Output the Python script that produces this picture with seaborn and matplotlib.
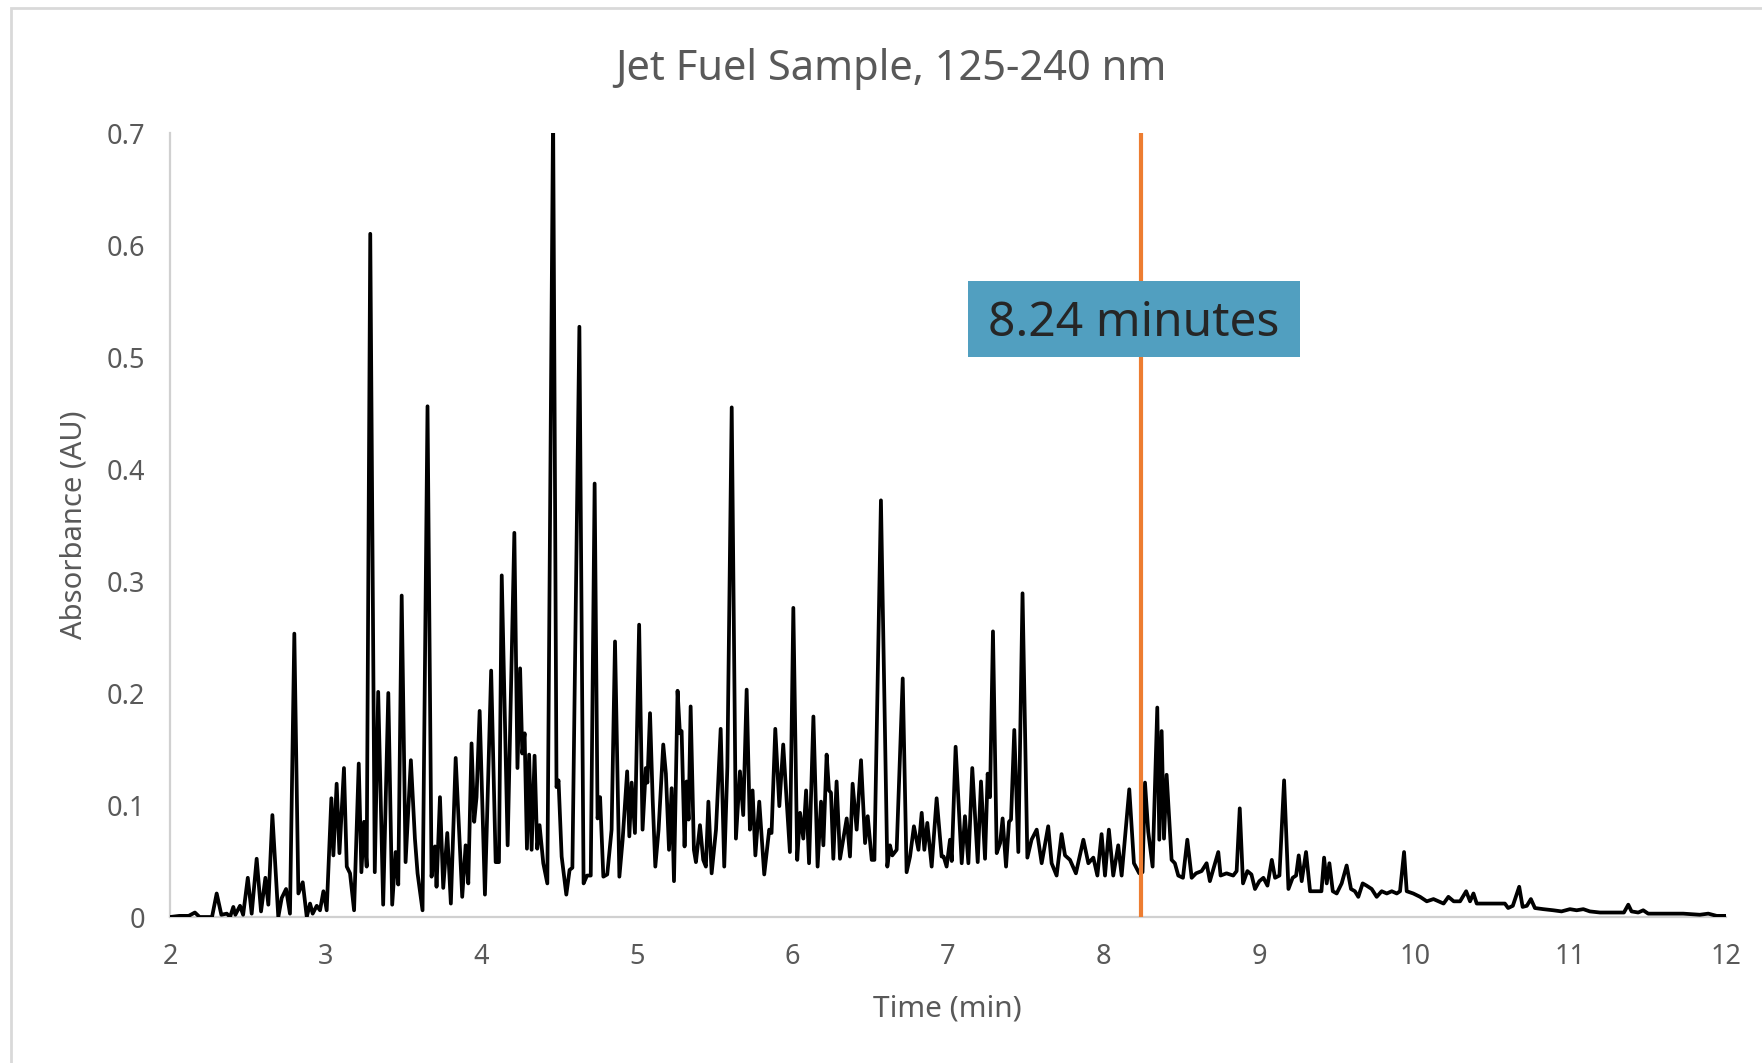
import matplotlib
matplotlib.use("Agg")
import matplotlib.pyplot as plt
import seaborn as sns
import pandas as pd
from matplotlib.patches import Rectangle

# ---- data ----
time_min = [
    2.000, 2.060, 2.120, 2.160, 2.190, 2.270, 2.300, 2.330, 2.365, 2.386, 2.407, 2.420, 2.450, 2.470,
    2.500, 2.525, 2.557, 2.585, 2.613, 2.632, 2.658, 2.696, 2.718, 2.746, 2.771, 2.799, 2.825, 2.853,
    2.879, 2.900, 2.917, 2.943, 2.964, 2.986, 3.007, 3.037, 3.050, 3.071, 3.089, 3.118, 3.136, 3.157,
    3.183, 3.213, 3.230, 3.247, 3.264, 3.287, 3.316, 3.338, 3.370, 3.403, 3.428, 3.450, 3.467, 3.489,
    3.514, 3.548, 3.574, 3.591, 3.623, 3.655, 3.681, 3.703, 3.713, 3.735, 3.756, 3.782, 3.805, 3.836,
    3.878, 3.900, 3.917, 3.938, 3.955, 3.970, 3.990, 4.024, 4.064, 4.093, 4.114, 4.132, 4.170, 4.213,
    4.233, 4.250, 4.264, 4.279, 4.294, 4.308, 4.324, 4.343, 4.360, 4.375, 4.399, 4.425, 4.462, 4.484,
    4.497, 4.517, 4.547, 4.568, 4.586, 4.631, 4.658, 4.680, 4.704, 4.729, 4.748, 4.764, 4.785, 4.810,
    4.838, 4.860, 4.888, 4.909, 4.938, 4.952, 4.967, 4.988, 5.015, 5.037, 5.058, 5.068, 5.085, 5.102,
    5.119, 5.140, 5.170, 5.187, 5.207, 5.224, 5.239, 5.262, 5.277, 5.288, 5.307, 5.320, 5.333, 5.346,
    5.367, 5.380, 5.406, 5.427, 5.444, 5.460, 5.481, 5.509, 5.539, 5.562, 5.582, 5.610, 5.637, 5.663,
    5.684, 5.706, 5.727, 5.744, 5.762, 5.787, 5.819, 5.851, 5.866, 5.890, 5.916, 5.941, 5.963, 5.984,
    6.006, 6.031, 6.049, 6.070, 6.088, 6.107, 6.135, 6.162, 6.184, 6.199, 6.220, 6.235, 6.248, 6.263,
    6.284, 6.306, 6.349, 6.370, 6.387, 6.413, 6.441, 6.467, 6.484, 6.510, 6.527, 6.569, 6.610, 6.627,
    6.642, 6.670, 6.709, 6.734, 6.756, 6.781, 6.810, 6.831, 6.848, 6.867, 6.895, 6.927, 6.959, 6.972,
    6.991, 7.013, 7.024, 7.049, 7.088, 7.109, 7.131, 7.156, 7.191, 7.212, 7.238, 7.255, 7.270, 7.289,
    7.313, 7.335, 7.351, 7.373, 7.392, 7.405, 7.426, 7.452, 7.479, 7.510, 7.537, 7.570, 7.602, 7.644,
    7.666, 7.698, 7.730, 7.752, 7.784, 7.822, 7.870, 7.902, 7.934, 7.960, 7.987, 8.009, 8.034, 8.062,
    8.094, 8.116, 8.165, 8.195, 8.229, 8.250, 8.266, 8.287, 8.315, 8.345, 8.358, 8.373, 8.388, 8.405,
    8.420, 8.437, 8.458, 8.480, 8.510, 8.538, 8.566, 8.594, 8.630, 8.662, 8.683, 8.737, 8.752, 8.790,
    8.833, 8.855, 8.875, 8.896, 8.924, 8.950, 8.973, 9.001, 9.027, 9.053, 9.081, 9.102, 9.130, 9.160,
    9.188, 9.215, 9.237, 9.254, 9.273, 9.301, 9.327, 9.370, 9.400, 9.417, 9.434, 9.451, 9.473, 9.498,
    9.530, 9.562, 9.590, 9.615, 9.637, 9.665, 9.690, 9.723, 9.755, 9.787, 9.820, 9.852, 9.884, 9.905,
    9.931, 9.948, 9.990, 10.034, 10.077, 10.120, 10.152, 10.185, 10.216, 10.250, 10.291, 10.330, 10.355,
    10.377, 10.398, 10.462, 10.525, 10.579, 10.600, 10.630, 10.671, 10.693, 10.720, 10.746, 10.772,
    10.826, 10.890, 10.943, 10.997, 11.040, 11.083, 11.125, 11.190, 11.275, 11.344, 11.372, 11.393,
    11.436, 11.468, 11.500, 11.618, 11.725, 11.832, 11.886, 11.940, 12.000,
]
absorbance_au = [
    0.000, 0.001, 0.001, 0.004, 0.000, 0.000, 0.021, 0.002, 0.003, 0.000, 0.009, 0.002, 0.010, 0.002,
    0.035, 0.003, 0.052, 0.005, 0.035, 0.011, 0.091, 0.000, 0.017, 0.025, 0.003, 0.253, 0.021, 0.031,
    0.000, 0.012, 0.003, 0.010, 0.006, 0.023, 0.006, 0.106, 0.055, 0.119, 0.057, 0.133, 0.045, 0.039,
    0.006, 0.137, 0.040, 0.085, 0.045, 0.610, 0.040, 0.201, 0.011, 0.200, 0.011, 0.058, 0.029, 0.287,
    0.049, 0.140, 0.070, 0.039, 0.006, 0.456, 0.036, 0.063, 0.027, 0.107, 0.026, 0.075, 0.012, 0.142,
    0.018, 0.064, 0.030, 0.155, 0.085, 0.107, 0.184, 0.020, 0.220, 0.049, 0.049, 0.305, 0.064, 0.343,
    0.133, 0.222, 0.146, 0.164, 0.061, 0.145, 0.060, 0.144, 0.061, 0.082, 0.048, 0.030, 0.720, 0.116,
    0.122, 0.054, 0.020, 0.042, 0.044, 0.527, 0.030, 0.037, 0.037, 0.387, 0.088, 0.107, 0.036, 0.038,
    0.078, 0.246, 0.036, 0.069, 0.130, 0.072, 0.120, 0.075, 0.261, 0.078, 0.133, 0.120, 0.182, 0.105,
    0.045, 0.078, 0.154, 0.128, 0.060, 0.115, 0.032, 0.202, 0.164, 0.166, 0.063, 0.121, 0.087, 0.188,
    0.060, 0.049, 0.082, 0.051, 0.045, 0.103, 0.039, 0.078, 0.168, 0.045, 0.134, 0.455, 0.070, 0.130,
    0.091, 0.203, 0.078, 0.113, 0.055, 0.103, 0.038, 0.078, 0.075, 0.168, 0.099, 0.154, 0.104, 0.058,
    0.276, 0.051, 0.093, 0.070, 0.113, 0.048, 0.179, 0.045, 0.103, 0.064, 0.145, 0.113, 0.111, 0.052,
    0.121, 0.052, 0.088, 0.054, 0.119, 0.078, 0.140, 0.066, 0.090, 0.051, 0.051, 0.372, 0.045, 0.064,
    0.055, 0.060, 0.213, 0.040, 0.054, 0.081, 0.060, 0.093, 0.060, 0.084, 0.045, 0.106, 0.054, 0.054,
    0.045, 0.069, 0.050, 0.152, 0.048, 0.090, 0.048, 0.133, 0.049, 0.121, 0.052, 0.128, 0.107, 0.255,
    0.057, 0.066, 0.088, 0.045, 0.085, 0.087, 0.167, 0.058, 0.289, 0.053, 0.069, 0.078, 0.048, 0.081,
    0.048, 0.037, 0.074, 0.055, 0.051, 0.039, 0.069, 0.048, 0.053, 0.037, 0.074, 0.037, 0.078, 0.037,
    0.064, 0.037, 0.114, 0.048, 0.039, 0.040, 0.120, 0.076, 0.045, 0.187, 0.069, 0.166, 0.070, 0.127,
    0.092, 0.051, 0.048, 0.037, 0.035, 0.069, 0.035, 0.039, 0.041, 0.048, 0.032, 0.058, 0.037, 0.039,
    0.037, 0.041, 0.097, 0.030, 0.041, 0.038, 0.025, 0.032, 0.035, 0.028, 0.051, 0.035, 0.037, 0.122,
    0.025, 0.035, 0.037, 0.055, 0.032, 0.058, 0.023, 0.023, 0.023, 0.053, 0.030, 0.048, 0.023, 0.021,
    0.030, 0.046, 0.025, 0.023, 0.018, 0.030, 0.028, 0.025, 0.018, 0.023, 0.021, 0.023, 0.021, 0.023,
    0.058, 0.023, 0.021, 0.018, 0.014, 0.016, 0.014, 0.012, 0.018, 0.014, 0.014, 0.023, 0.014,
    0.021, 0.012, 0.012, 0.012, 0.012, 0.008, 0.010, 0.027, 0.009, 0.010, 0.016, 0.008,
    0.007, 0.006, 0.005, 0.007, 0.006, 0.007, 0.005, 0.004, 0.004, 0.004, 0.011, 0.005,
    0.004, 0.006, 0.003, 0.003, 0.003, 0.002, 0.003, 0.001, 0.001,
]
x_ticks = [2, 3, 4, 5, 6, 7, 8, 9, 10, 11, 12]
x_tick_labels = ["2", "3", "4", "5", "6", "7", "8", "9", "10", "11", "12"]
y_ticks = [0.0, 0.1, 0.2, 0.3, 0.4, 0.5, 0.6, 0.7]
y_tick_labels = ["0", "0.1", "0.2", "0.3", "0.4", "0.5", "0.6", "0.7"]
marker_time = 8.24
marker_label = "8.24 minutes"
chart_title = "Jet Fuel Sample, 125-240 nm"
x_label = "Time (min)"
y_label = "Absorbance (AU)"

# ---- style ----
sns.set_style("white")
plt.rcParams["font.family"] = ["Noto Sans", "DejaVu Sans"]

W, H = 1762, 1063
fig = plt.figure(figsize=(W / 100, H / 100), dpi=100)
ax = fig.add_axes([170 / W, (H - 917) / H, (1726 - 170) / W, (917 - 133) / H])

df = pd.DataFrame({"time": time_min, "abs": absorbance_au})
sns.lineplot(data=df, x="time", y="abs", ax=ax, color="black", linewidth=2.7,
             estimator=None, sort=False, zorder=3,
             solid_joinstyle="round", solid_capstyle="round")

ax.axvline(marker_time, color="#ED7D31", linewidth=3.0, zorder=4)

ax.set_xlim(2, 12)
ax.set_ylim(0, 0.7)
ax.set_xticks(x_ticks)
ax.set_xticklabels(x_tick_labels)
ax.set_yticks(y_ticks)
ax.set_yticklabels(y_tick_labels)
ax.tick_params(axis="both", length=0, labelsize=19.5, labelcolor="#595959")
ax.tick_params(axis="y", pad=18)
ax.tick_params(axis="x", pad=19)
ax.grid(False)

for side in ["top", "right"]:
    ax.spines[side].set_visible(False)
for side in ["left", "bottom"]:
    ax.spines[side].set_color("#D0D0D0")
    ax.spines[side].set_linewidth(1.6)

ax.set_xlabel(x_label, fontsize=21.5, color="#595959")
ax.set_ylabel(y_label, fontsize=21, color="#595959")
ax.xaxis.label.set_va("center")
ax.yaxis.label.set_va("center")
ax.xaxis.set_label_coords((947 - 170) / (1726 - 170), -(1009 - 917) / (917 - 133))
ax.yaxis.set_label_coords(-(170 - 74) / (1726 - 170), (917 - 525) / (917 - 133))

fig.text(891 / W, 1 - 69.5 / H, chart_title, ha="center", va="center",
         fontsize=30, color="#595959")

# outer chart border
fig.add_artist(Rectangle((11 / W, -0.05), 1.2, (H - 8) / H + 0.05,
                         transform=fig.transFigure, fill=False,
                         edgecolor="#D9D9D9", linewidth=2.0))

# annotation box
fig.add_artist(Rectangle((968 / W, (H - 357) / H), (1300 - 968) / W, (357 - 281) / H,
                         transform=fig.transFigure, facecolor="#519FC0",
                         edgecolor="none", zorder=5))
fig.text(1134 / W, 1 - 323.5 / H, marker_label, ha="center", va="center",
         fontsize=34.5, color="#262626", zorder=6)

fig.savefig("out.png", dpi=100)
